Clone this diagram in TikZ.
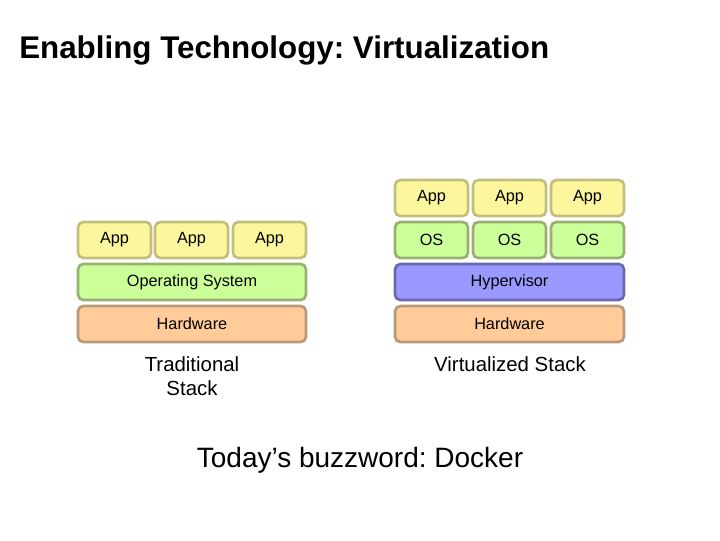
\documentclass[tikz,border=0pt]{standalone}
\usepackage{fontspec}
\setmainfont{Liberation Sans}
\frenchspacing
\definecolor{appf}{HTML}{FCF79C}\definecolor{appd}{HTML}{C4BE7E}
\definecolor{osf}{HTML}{CCFF99}\definecolor{osd}{HTML}{98B070}
\definecolor{hvf}{HTML}{9999FF}\definecolor{hvd}{HTML}{6868B0}
\definecolor{hwf}{HTML}{FFCC99}\definecolor{hwd}{HTML}{B89878}
\begin{document}
\begin{tikzpicture}[x=0.75pt,y=-0.75pt,
 blk/.style={draw,line width=2pt,rounded corners=4pt,font=\fontsize{12.2}{14}\selectfont},
 appb/.style={blk,fill=appf,draw=appd},
 osb/.style={blk,fill=osf,draw=osd},
 hvb/.style={blk,fill=hvf,draw=hvd},
 hwb/.style={blk,fill=hwf,draw=hwd}]
\useasboundingbox (0,0) rectangle (720,540);
\frenchspacing
\node[anchor=west,inner sep=0pt,font=\bfseries\fontsize{23.5}{26}\selectfont] (title) at (19,50) {Enabling Technology: Virtualization};
% traditional
\path[appb] (78,222) rectangle (151,258) node[midway] (ta1) {App};
\path[appb] (155,222) rectangle (228,258) node[midway] (ta2) {App};
\path[appb] (233,222) rectangle (306,258) node[midway] (ta3) {App};
\path[osb] (78,264) rectangle (306,300) node[midway] (tos) {Operating System};
\path[hwb] (78,306) rectangle (306,342) node[midway] (thw) {Hardware};
\node[align=center,font=\fontsize{15.3}{18}\selectfont] (tl) at (192,376) {Traditional\\Stack};
% virtualized
\foreach \x/\n in {395/1,473/2,551/3}{
 \path[appb] (\x,180) rectangle ++(73,36) node[midway] (va\n) {App};
 \path[osb] (\x,222) rectangle ++(73,36) node[midway] (vo\n) {OS};}
\path[hvb] (395,264) rectangle (624,300) node[midway] (vhv) {Hypervisor};
\path[hwb] (395,306) rectangle (624,342) node[midway] (vhw) {Hardware};
\node[font=\fontsize{15.3}{18}\selectfont] (vl) at (510,364) {Virtualized Stack};
\node[font=\fontsize{21}{24}\selectfont] (bz) at (360,460) {Today’s buzzword: Docker};
\end{tikzpicture}
\end{document}
